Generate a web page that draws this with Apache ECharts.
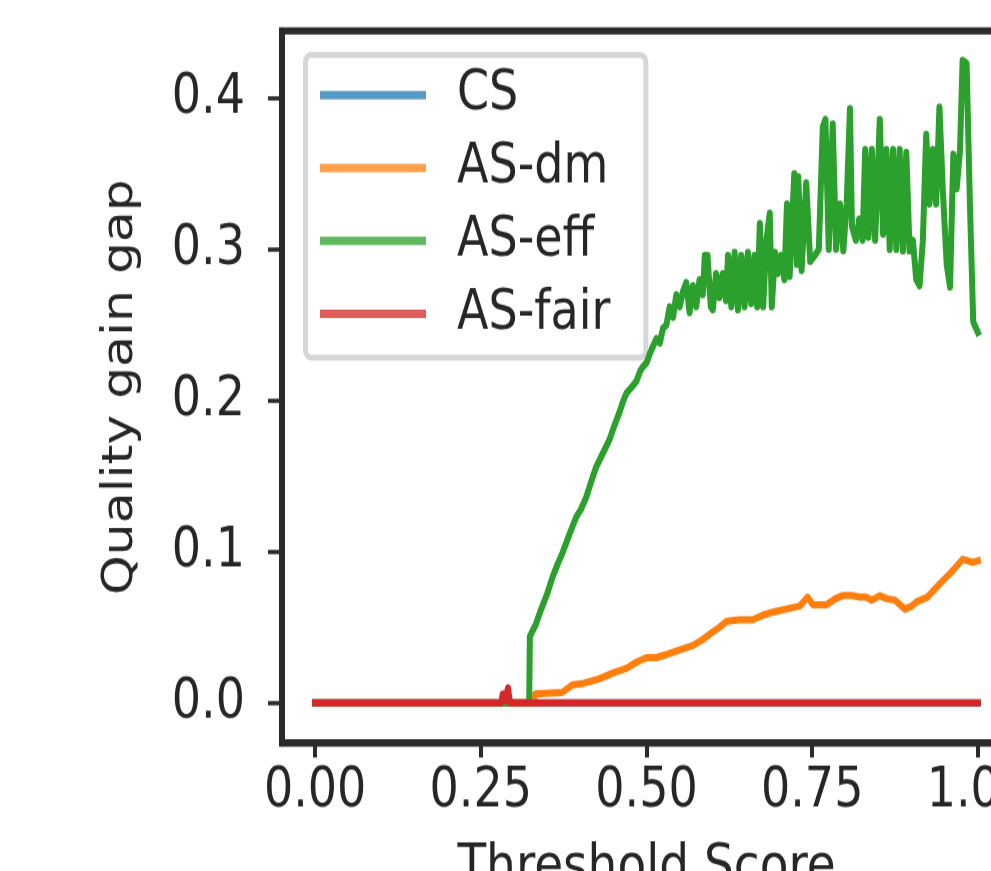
<!DOCTYPE html>
<html>
<head>
<meta charset="utf-8">
<script src="https://cdn.jsdelivr.net/npm/echarts@6/dist/echarts.min.js"></script>
<style>
  html, body { margin: 0; padding: 0; width: 991px; height: 871px; overflow: hidden; background: #ffffff; }
  /* the figure is laid out short and stretched vertically (tall glyphs) */
  #chart { width: 1040px; height: 726px; transform: scaleY(1.2); transform-origin: 0 0; }
</style>
</head>
<body>
<div id="chart"></div>
<script>
// Quality gain gap vs threshold score, one curve per allocation scheme.
const seriesNames = ['CS', 'AS-dm', 'AS-eff', 'AS-fair'];
const xTicks = [0, 0.25, 0.5, 0.75, 1.0];
const yTicks = [0, 0.1, 0.2, 0.3, 0.4];

// [threshold, gap]
const csCurve = [[0, 0], [0.25, 0], [0.5, 0], [0.75, 0], [1.0, 0]];

const fairCurve = [
  [0, 0], [0.281, 0], [0.283, 0.006], [0.287, 0.002], [0.291, 0.010], [0.294, 0], [1.0, 0]
];

const dmCurve = [
  [0, 0], [0.330, 0], [0.332, 0.006], [0.373, 0.007], [0.388, 0.012], [0.405, 0.013],
  [0.429, 0.016], [0.450, 0.020], [0.470, 0.023], [0.485, 0.027], [0.500, 0.030],
  [0.515, 0.030], [0.530, 0.032], [0.550, 0.035], [0.570, 0.038], [0.585, 0.042],
  [0.600, 0.047], [0.610, 0.050], [0.621, 0.054], [0.640, 0.055], [0.660, 0.055],
  [0.675, 0.058], [0.690, 0.060], [0.710, 0.062], [0.731, 0.064], [0.743, 0.070],
  [0.751, 0.065], [0.772, 0.065], [0.785, 0.069], [0.796, 0.071], [0.810, 0.071],
  [0.822, 0.070], [0.831, 0.070], [0.840, 0.068], [0.852, 0.071], [0.862, 0.069],
  [0.875, 0.068], [0.890, 0.062], [0.900, 0.064], [0.908, 0.067], [0.924, 0.070],
  [0.943, 0.079], [0.961, 0.087], [0.977, 0.095], [0.985, 0.094], [0.992, 0.093],
  [1.0, 0.094]
];

const effCurve = [
  [0, 0], [0.100, 0], [0.200, 0], [0.300, 0], [0.323, 0], [0.324, 0.044],
  [0.333, 0.052], [0.341, 0.062], [0.350, 0.072], [0.358, 0.083], [0.366, 0.092],
  [0.373, 0.099], [0.384, 0.112], [0.394, 0.123], [0.401, 0.128], [0.409, 0.136],
  [0.417, 0.147], [0.424, 0.156], [0.434, 0.165], [0.444, 0.174], [0.452, 0.184],
  [0.459, 0.192], [0.465, 0.200], [0.470, 0.205], [0.478, 0.209], [0.485, 0.213],
  [0.490, 0.219], [0.494, 0.222], [0.500, 0.225], [0.505, 0.231], [0.510, 0.236],
  [0.515, 0.241], [0.520, 0.238], [0.525, 0.248], [0.530, 0.250], [0.535, 0.262],
  [0.540, 0.255], [0.545, 0.270], [0.550, 0.262], [0.555, 0.272], [0.560, 0.278],
  [0.565, 0.258], [0.570, 0.276], [0.575, 0.262], [0.580, 0.280], [0.585, 0.270],
  [0.588, 0.296], [0.592, 0.296], [0.597, 0.262], [0.600, 0.260], [0.605, 0.284],
  [0.610, 0.268], [0.615, 0.284], [0.620, 0.266], [0.623, 0.296], [0.628, 0.262],
  [0.633, 0.298], [0.638, 0.260], [0.643, 0.296], [0.648, 0.262], [0.653, 0.298],
  [0.658, 0.264], [0.663, 0.296], [0.667, 0.262], [0.671, 0.317], [0.676, 0.262],
  [0.681, 0.306], [0.686, 0.324], [0.689, 0.262], [0.694, 0.298], [0.698, 0.284],
  [0.703, 0.296], [0.708, 0.280], [0.712, 0.330], [0.716, 0.282], [0.723, 0.350],
  [0.727, 0.290], [0.729, 0.348], [0.734, 0.286], [0.741, 0.344], [0.747, 0.292],
  [0.754, 0.296], [0.760, 0.300], [0.766, 0.381], [0.770, 0.386], [0.775, 0.300],
  [0.781, 0.383], [0.786, 0.300], [0.792, 0.330], [0.797, 0.299], [0.802, 0.330],
  [0.807, 0.393], [0.810, 0.315], [0.816, 0.306], [0.821, 0.320], [0.826, 0.306],
  [0.830, 0.366], [0.835, 0.308], [0.840, 0.366], [0.845, 0.306], [0.852, 0.386],
  [0.857, 0.310], [0.862, 0.366], [0.867, 0.300], [0.872, 0.366], [0.877, 0.300],
  [0.882, 0.366], [0.887, 0.299], [0.892, 0.364], [0.897, 0.299], [0.902, 0.306],
  [0.907, 0.280], [0.912, 0.276], [0.917, 0.306], [0.922, 0.376], [0.927, 0.330],
  [0.932, 0.366], [0.937, 0.330], [0.942, 0.394], [0.947, 0.340], [0.953, 0.290],
  [0.958, 0.275], [0.963, 0.363], [0.968, 0.340], [0.973, 0.365], [0.977, 0.425],
  [0.983, 0.423], [0.988, 0.330], [0.993, 0.252], [1.0, 0.245]
];

const curves = [csCurve, dmCurve, effCurve, fairCurve];
const lineColors = ['#1f77b4', '#ff7f0e', '#2ca02c', '#d62728'];
const legendColors = ['#5799c7', '#ff9f4a', '#61b861', '#e05d5e'];

const FONT = 'DejaVu Sans';
const INK = '#262626';
const SPINE = '#2b2b2b';

const chart = echarts.init(document.getElementById('chart'), null, { renderer: 'canvas' });

chart.setOption({
  animation: false,
  backgroundColor: '#ffffff',
  grid: {
    left: 282, top: 25.8, width: 729, height: 593.4,
    containLabel: false, outerBoundsMode: 'none',
    show: true, borderColor: SPINE, borderWidth: 6, backgroundColor: 'transparent'
  },
  legend: {
    left: 305.5, top: 45.8,
    orient: 'vertical',
    selectedMode: false,
    icon: 'rect',
    itemWidth: 106, itemHeight: 7, itemGap: 14.8,
    padding: [10.4, 35.5, 13.4, 14.5],
    backgroundColor: '#ffffff',
    borderColor: '#d6d6d6', borderWidth: 5, borderRadius: 6,
    textStyle: { fontFamily: FONT, fontSize: 46, color: INK, lineHeight: 46, padding: [0, 0, 0, 26] },
    data: seriesNames.map((n, i) => ({ name: n, itemStyle: { color: legendColors[i] } }))
  },
  xAxis: {
    type: 'value', min: -0.05, max: 1.05,
    name: 'Threshold Score', nameLocation: 'middle', nameGap: 81,
    nameTextStyle: { fontFamily: FONT, fontSize: 47, color: INK },
    axisLine: { show: true, onZero: false, lineStyle: { color: SPINE, width: 6 } },
    axisTick: { show: true, customValues: xTicks, length: 12, lineStyle: { color: SPINE, width: 4 } },
    axisLabel: {
      customValues: xTicks, margin: 18, fontFamily: FONT, fontSize: 46, color: INK,
      formatter: v => v.toFixed(2)
    },
    splitLine: { show: false }
  },
  yAxis: {
    type: 'value', min: -0.0265, max: 0.4444,
    name: 'Quality gain gap', nameLocation: 'middle', nameGap: 140,
    nameTextStyle: { fontFamily: FONT, fontSize: 42, color: INK },
    axisLine: { show: true, onZero: false, lineStyle: { color: SPINE, width: 6 } },
    axisTick: { show: true, customValues: yTicks, length: 14, lineStyle: { color: SPINE, width: 3.5 } },
    axisLabel: {
      customValues: yTicks, margin: 37, fontFamily: FONT, fontSize: 46, color: INK,
      formatter: v => v.toFixed(1)
    },
    splitLine: { show: false }
  },
  series: seriesNames.map((n, i) => ({
    name: n,
    type: 'line',
    data: curves[i],
    symbol: 'none',
    showSymbol: false,
    clip: true,
    color: lineColors[i],
    lineStyle: { color: lineColors[i], width: 6, cap: 'square', join: 'round' },
    emphasis: { disabled: true },
    z: 2 + i
  }))
});
</script>
</body>
</html>
